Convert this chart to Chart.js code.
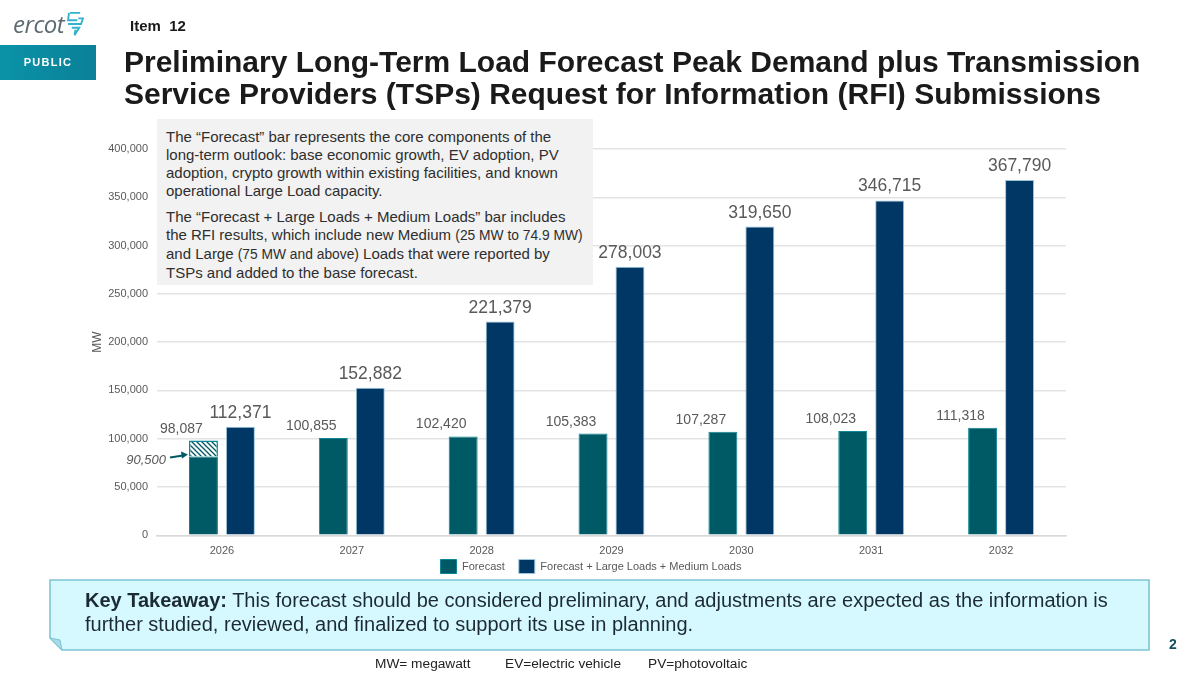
<!DOCTYPE html>
<html>
<head>
<meta charset="utf-8">
<script src="https://cdn.jsdelivr.net/npm/chart.js@4/dist/chart.umd.min.js"></script>
<style>
html,body{margin:0;padding:0;background:#fff;}
body{width:1200px;height:675px;position:relative;overflow:hidden;font-family:"Liberation Sans",Arial,sans-serif;color:#1a1a1a;}
#riskChart{position:absolute;left:0;top:0;}
.abs{position:absolute;white-space:nowrap;}
#logo{left:13px;top:7px;font-size:24px;font-style:italic;color:#5d6a72;letter-spacing:-.5px;font-family:"Open Sans",sans-serif;}
#item{left:130px;top:17px;font-size:15px;font-weight:bold;}
#pub{left:0;top:45px;width:96px;height:35px;line-height:35px;text-align:center;background:linear-gradient(90deg,#0a93a8,#0b8098);color:#fff;font-size:11px;font-weight:bold;letter-spacing:1.3px;}
#title{left:124px;top:46px;font-size:30px;line-height:32px;font-weight:bold;color:#1a1a1a;}
#note{left:157px;top:119px;width:436px;height:166px;background:#f2f2f2;font-size:15px;line-height:18px;color:#2e2e2e;box-sizing:border-box;padding:9px 0 0 9px;}
#note p{margin:0 0 8px 0;}
#note small{font-size:13.8px;}
#box{left:49px;top:579px;}
#take{left:85px;top:588px;font-size:20px;line-height:24px;color:#1c2b33;}
#page{left:1169px;top:636px;font-size:14px;font-weight:bold;color:#12505f;}
.foot{top:656px;font-size:13.7px;color:#222;}
</style>
</head>
<body>
<canvas id="riskChart" width="1200" height="675"></canvas>

<div class="abs" id="logo">ercot</div>
<svg class="abs" style="left:66px;top:11px" width="19" height="26" viewBox="0 0 20 28" fill="none" stroke="#2fb4cc" stroke-width="2">
  <path d="M4 2h11M3 2l-1 8h10M2 14h14l2-6-5 0M6 18h8l-5 8 1-6"/>
</svg>
<div class="abs" id="item">Item&nbsp; 12</div>
<div class="abs" id="pub">PUBLIC</div>
<div class="abs" id="title">Preliminary Long-Term Load Forecast Peak Demand plus Transmission<br>Service Providers (TSPs) Request for Information (RFI) Submissions</div>

<div class="abs" id="note">
  <p>The “Forecast” bar represents the core components of the<br>long-term outlook: base economic growth, EV adoption, PV<br>adoption, crypto growth within existing facilities, and known<br>operational Large Load capacity.</p>
  <p>The “Forecast + Large Loads + Medium Loads” bar includes<br>the RFI results, which include new Medium <small>(25 MW to 74.9 MW)</small><br>and Large <small>(75 MW and above)</small> Loads that were reported by<br>TSPs and added to the base forecast.</p>
</div>

<svg class="abs" id="box" width="1102" height="73" viewBox="0 0 1102 73">
  <path d="M1 1H1100V71H13L1 59Z" fill="#d6f8ff" stroke="#7cc5d3" stroke-width="1.6"/>
  <path d="M1 59L11 61L13 71Z" fill="#a9dbe6" stroke="#7cc5d3" stroke-width="1"/>
</svg>
<div class="abs" id="take"><b>Key Takeaway:</b> This forecast should be considered preliminary, and adjustments are expected as the information is<br>further studied, reviewed, and finalized to support its use in planning.</div>
<div class="abs" id="page">2</div>
<div class="abs foot" style="left:375px">MW= megawatt</div>
<div class="abs foot" style="left:505px">EV=electric vehicle</div>
<div class="abs foot" style="left:648px">PV=photovoltaic</div>

<script>
// Values
const years = ["2026","2027","2028","2029","2030","2031","2032"];
const forecast = [98087,100855,102420,105383,107287,108023,111318];
const forecastWithLoads = [112371,152882,221379,278003,319650,346715,367790];
const yTicks = [0,50000,100000,150000,200000,250000,300000,350000,400000];
// the original labels the hatch 90,500 but draws its lower edge near 81,500
const hatchFloor = 81500;
const hatchLabel = 90500;
const hatchYear = "2026";

const TEAL = "#005a66", NAVY = "#003764", GREY = "#595959";
const fmt = n => n.toLocaleString("en-US");

// solid part of the forecast bar, and the hatched top of it for 2026 only
const forecastSolid = years.map((y,i)=> y===hatchYear ? hatchFloor : forecast[i]);
const forecastHatch = years.map((y,i)=> y===hatchYear ? forecast[i]-hatchFloor : 0);

function hatchPattern(){
  const c = document.createElement("canvas");
  c.width = 5; c.height = 5;
  const g = c.getContext("2d");
  g.fillStyle = "#fff"; g.fillRect(0,0,5,5);
  g.strokeStyle = TEAL; g.lineWidth = 1.3;
  g.beginPath();
  g.moveTo(-1,-1); g.lineTo(6,6);
  g.moveTo(-1,4); g.lineTo(1,6);
  g.moveTo(4,-1); g.lineTo(6,1);
  g.stroke();
  return g.createPattern(c,"repeat");
}

// value labels and the 90,500 pointer
const valueLabels = {
  id:"valueLabels",
  afterLayout(chart){
    // legend sits closer to the axis and left of the plot centre in the original
    chart.legend.left += 13; chart.legend.right += 13;
    chart.legend.top -= 13; chart.legend.bottom -= 13;
  },
  afterDatasetsDraw(chart){
    const ctx = chart.ctx, y = chart.scales.y;
    const barA = chart.getDatasetMeta(0).data, barB = chart.getDatasetMeta(2).data;
    ctx.save();
    ctx.textAlign = "center";
    ctx.textBaseline = "alphabetic";
    years.forEach((yr,i)=>{
      ctx.fillStyle = GREY;
      ctx.font = '14px "Liberation Sans"';
      ctx.fillText(fmt(forecast[i]), barA[i].x-22, y.getPixelForValue(forecast[i])-8);
      ctx.font = '17.5px "Liberation Sans"';
      ctx.fillText(fmt(forecastWithLoads[i]), barB[i].x, y.getPixelForValue(forecastWithLoads[i])-9);
    });
    const py = y.getPixelForValue(hatchFloor);
    const left = barA[0].x - barA[0].width/2;
    ctx.font = 'italic 13px "Liberation Sans"';
    ctx.textAlign = "right";
    ctx.fillText(fmt(hatchLabel), left-23, py+7);
    ctx.strokeStyle = TEAL; ctx.fillStyle = TEAL; ctx.lineWidth = 2;
    ctx.beginPath(); ctx.moveTo(left-19,py+1); ctx.lineTo(left-6,py-1); ctx.stroke();
    ctx.beginPath(); ctx.moveTo(left-1,py-2); ctx.lineTo(left-8,py-5); ctx.lineTo(left-7,py+2); ctx.closePath(); ctx.fill();
    ctx.restore();
  }
};

new Chart(document.getElementById("riskChart").getContext("2d"),{
  type:"bar",
  data:{
    labels:years,
    datasets:[
      {label:"Forecast",data:forecastSolid,stack:"a",backgroundColor:TEAL,borderColor:"#0b8796",borderWidth:1},
      {label:"hatch",data:forecastHatch,stack:"a",backgroundColor:hatchPattern(),borderColor:"#0b8796",borderWidth:1.5},
      {label:"Forecast + Large Loads + Medium Loads",data:forecastWithLoads,stack:"b",backgroundColor:NAVY,borderColor:"#9cc6dd",borderWidth:1}
    ]
  },
  options:{
    responsive:false,
    animation:false,
    devicePixelRatio:1,
    categoryPercentage:.569,
    barPercentage:.784,
    layout:{padding:{left:90,right:134,top:149,bottom:78.5}},
    plugins:{
      tooltip:{enabled:false},
      legend:{
        position:"bottom",
        labels:{
          boxWidth:16,boxHeight:14,padding:14,color:GREY,
          font:{size:11,family:"Liberation Sans"},
          filter:item=>item.text!=="hatch"
        }
      }
    },
    scales:{
      x:{
        stacked:true,
        grid:{display:false},
        border:{color:"#d9d9d9",width:1.5},
        ticks:{color:GREY,font:{size:11,family:"Liberation Sans"},padding:1}
      },
      y:{
        stacked:true,
        min:0,max:400000,
        afterBuildTicks:s=>{s.ticks=yTicks.map(v=>({value:v}));},
        grid:{color:"#e3e3e3",lineWidth:1.5,drawTicks:false},
        border:{display:false},
        ticks:{color:GREY,font:{size:11,family:"Liberation Sans"},padding:9,callback:v=>fmt(v)},
        title:{display:true,text:"MW",color:GREY,font:{size:12,family:"Liberation Sans"},padding:0},
        afterFit:s=>{s.width=67;}
      }
    }
  },
  plugins:[valueLabels]
});
</script>
</body>
</html>
